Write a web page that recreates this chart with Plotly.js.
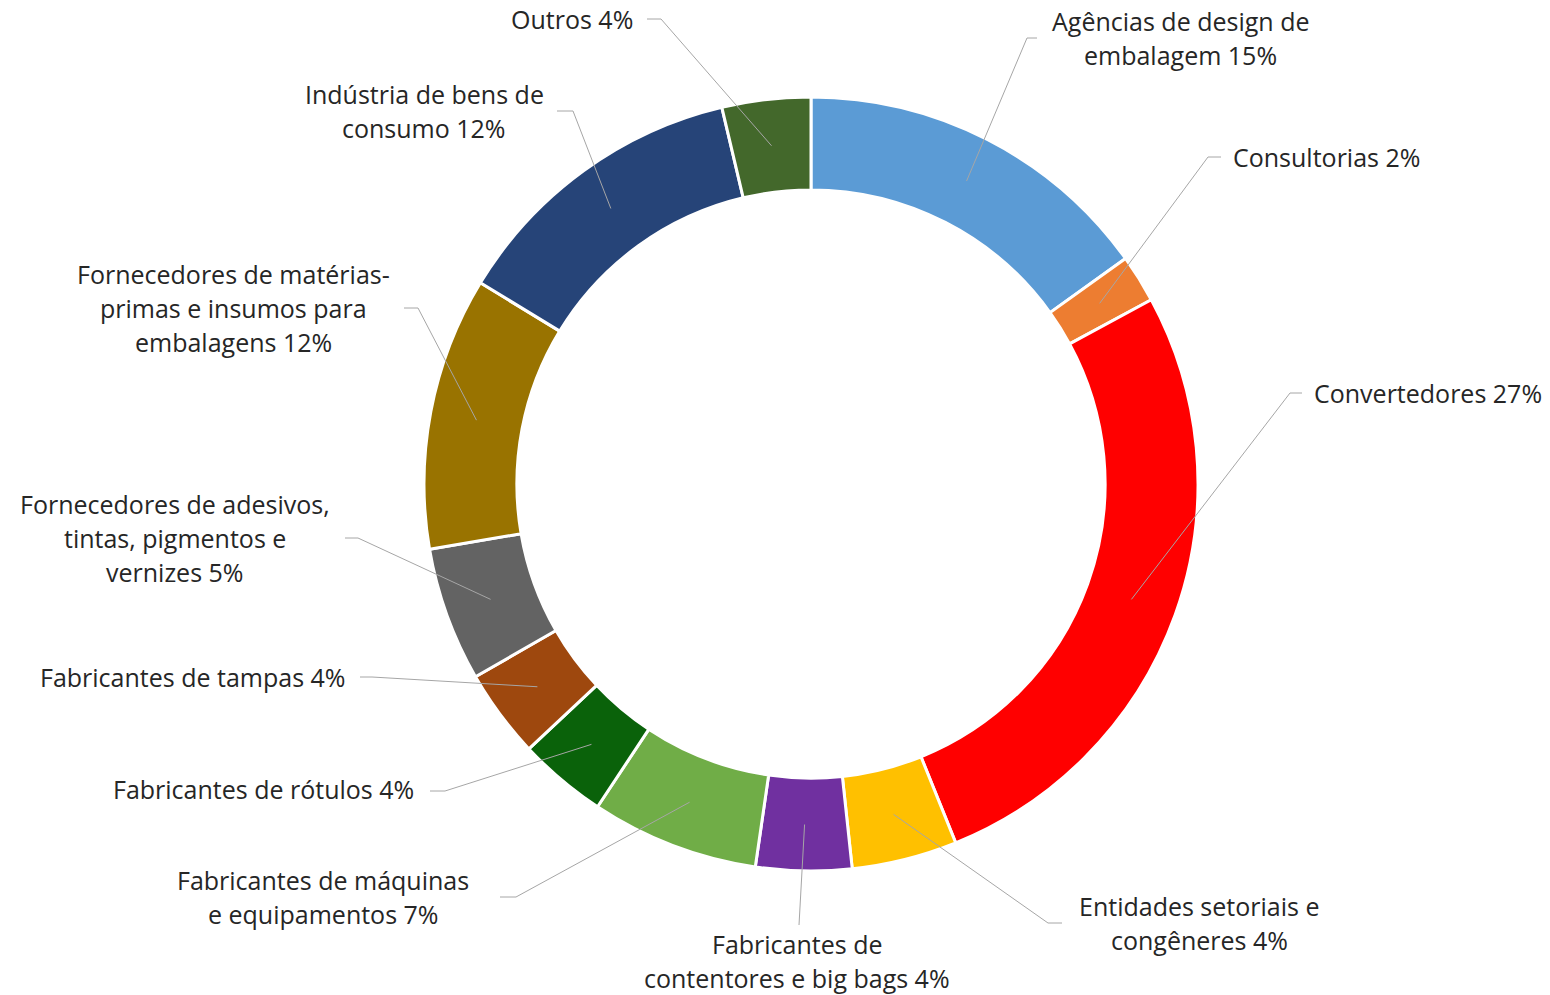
<!DOCTYPE html>
<html><head><meta charset="utf-8">
<script src="https://cdn.plot.ly/plotly-3.0.1.min.js"></script>
<style>html,body{margin:0;padding:0;background:#fff}#chart{width:1550px;height:995px}</style>
</head><body><div id="chart"></div>
<script>
// ---- data ----
const categories = [
  "Agências de design de<br>embalagem",
  "Consultorias",
  "Convertedores",
  "Entidades setoriais e<br>congêneres",
  "Fabricantes de<br>contentores e big bags",
  "Fabricantes de máquinas<br>e equipamentos",
  "Fabricantes de rótulos",
  "Fabricantes de tampas",
  "Fornecedores de adesivos,<br>tintas, pigmentos e<br>vernizes",
  "Fornecedores de matérias-<br>primas e insumos para<br>embalagens",
  "Indústria de bens de<br>consumo",
  "Outros"
];
const shares = [15.1, 2.0, 26.8, 4.4, 4.0, 7.0, 3.7, 3.7, 5.6, 11.4, 12.6, 3.7];
const shareLabels = ["15%", "2%", "27%", "4%", "4%", "7%", "4%", "4%", "5%", "12%", "12%", "4%"];
const sliceColors = ["#5B9BD5", "#ED7D31", "#FF0000", "#FFC000", "#7030A0", "#70AD47",
                     "#0A620A", "#9E480E", "#636363", "#997300", "#264478", "#43682B"];

// ---- label placement (pixels): text anchor x, text centre y, align, elbow, line end ----
const labelPos = [
  {tx:1180, ty:38,  anchor:"center", elbow:[1027,38],  end:[1037,38]},
  {tx:1231, ty:157, anchor:"left",   elbow:[1208,157], end:[1221,157]},
  {tx:1312, ty:393, anchor:"left",   elbow:[1290,393], end:[1302,393]},
  {tx:1199, ty:923, anchor:"center", elbow:[1048,923], end:[1062,923]},
  {tx:797,  ty:961, anchor:"center", elbow:[799,925],  end:[799,925]},
  {tx:323,  ty:897, anchor:"center", elbow:[516,897],  end:[500,897]},
  {tx:416,  ty:789, anchor:"right",  elbow:[445,791],  end:[430,791]},
  {tx:348,  ty:677, anchor:"right",  elbow:[372,677],  end:[360,677]},
  {tx:175,  ty:538, anchor:"center", elbow:[358,538],  end:[345,538]},
  {tx:233,  ty:308, anchor:"center", elbow:[418,308],  end:[404,308]},
  {tx:424,  ty:111, anchor:"center", elbow:[573,111],  end:[557,111]},
  {tx:635,  ty:19,  anchor:"right",  elbow:[661,19],   end:[647,19]}
];

const W = 1550, H = 995;
const CX = 811, CY = 484, R_OUT = 387, HOLE = 0.76;
const LINE_H = 34;
const FONT = {family: "'Open Sans', 'Noto Sans', sans-serif", size: 25, color: "#262626"};

const px = x => x / W;
const py = y => 1 - y / H;

const total = shares.reduce((a, b) => a + b, 0);
const rMid = R_OUT * (1 + HOLE) / 2;

const shapes = [];
const annotations = [];
let cum = 0;
shares.forEach((v, i) => {
  const mid = (cum + v / 2) / total * 2 * Math.PI;
  cum += v;
  const sx = CX + rMid * Math.sin(mid);
  const sy = CY - rMid * Math.cos(mid);
  const L = labelPos[i];
  shapes.push({
    type: "path", xref: "paper", yref: "paper", layer: "above",
    path: `M ${px(sx)},${py(sy)} L ${px(L.elbow[0])},${py(L.elbow[1])} L ${px(L.end[0])},${py(L.end[1])}`,
    line: {color: "#A6A6A6", width: 1}
  });
  const lines = (categories[i] + " " + shareLabels[i]).split("<br>");
  const n = lines.length;
  lines.forEach((t, k) => {
    const y = L.ty + (k - (n - 1) / 2) * LINE_H;
    annotations.push({
      xref: "paper", yref: "paper", x: px(L.tx), y: py(y),
      xanchor: L.anchor, yanchor: "middle", showarrow: false,
      text: t, font: FONT
    });
  });
});

const trace = {
  type: "pie",
  labels: categories,
  values: shares,
  sort: false,
  direction: "clockwise",
  rotation: 0,
  hole: HOLE,
  textinfo: "none",
  hoverinfo: "label+percent",
  marker: {colors: sliceColors, line: {color: "#FFFFFF", width: 3}},
  domain: {x: [px(CX - R_OUT), px(CX + R_OUT)], y: [py(CY + R_OUT), py(CY - R_OUT)]},
  showlegend: false
};

Plotly.newPlot("chart", [trace], {
  width: W, height: H,
  margin: {l: 0, r: 0, t: 0, b: 0},
  paper_bgcolor: "#FFFFFF",
  showlegend: false,
  shapes: shapes,
  annotations: annotations
}, {displayModeBar: false});
</script>
</body></html>
